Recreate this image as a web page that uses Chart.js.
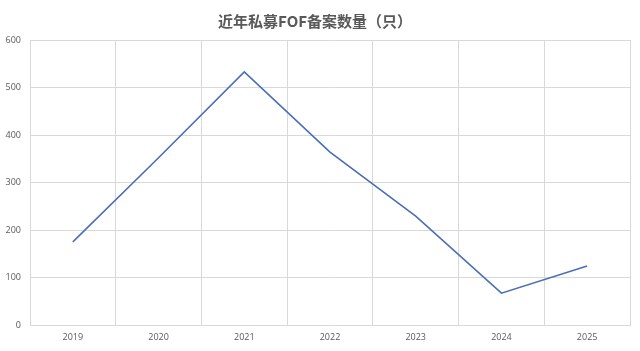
<!DOCTYPE html>
<html>
<head>
<meta charset="utf-8">
<script src="https://cdn.jsdelivr.net/npm/chart.js@4/dist/chart.umd.min.js"></script>
<style>
  html, body { margin: 0; padding: 0; background: #fff; }
  #wrap { width: 640px; height: 351px; position: relative; }
</style>
</head>
<body>
<div id="wrap"><canvas id="chart"></canvas></div>
<script>
// 近年私募FOF备案数量（只）
const years = ['2019', '2020', '2021', '2022', '2023', '2024', '2025'];
const fofCounts = [175, 352, 533, 364, 229, 67, 124];
const yTicks = [0, 100, 200, 300, 400, 500, 600];

const gridColor = '#d9d9d9';
const textColor = '#595959';

const ctx = document.getElementById('chart');

new Chart(ctx, {
    type: 'line',
    data: {
        labels: years,
        datasets: [{
            label: '备案数量',
            data: fofCounts,
            borderColor: '#4a6fb8',
            borderWidth: 1.6,
            pointRadius: 0,
            tension: 0,
            fill: false
        }]
    },
    options: {
        responsive: true,
        maintainAspectRatio: false,
        animation: false,
        layout: {
            padding: { top: 4, right: 10, bottom: 4, left: 0 }
        },
        plugins: {
            legend: { display: false },
            tooltip: { enabled: false },
            title: {
                display: true,
                text: '近年私募FOF备案数量（只）',
                color: textColor,
                font: { family: '"Noto Sans CJK SC", sans-serif', size: 15, weight: 'bold', lineHeight: 1.2 },
                padding: { top: 8, bottom: 10 }
            }
        },
        scales: {
            x: {
                offset: true,
                grid: { color: gridColor, offset: true, drawTicks: false },
                border: { color: gridColor },
                ticks: {
                    color: textColor,
                    font: { family: '"Open Sans", sans-serif', size: 9 },
                    padding: 7,
                    maxRotation: 0
                },
                afterFit: axis => { axis.height = 22; }
            },
            y: {
                min: 0,
                max: 600,
                afterBuildTicks: axis => { axis.ticks = yTicks.map(v => ({ value: v })); },
                grid: { color: gridColor, drawTicks: false },
                border: { color: gridColor },
                ticks: {
                    color: textColor,
                    font: { family: '"Open Sans", sans-serif', size: 9 },
                    padding: 9
                },
                afterFit: axis => { axis.width = 30; }
            }
        }
    }
});
</script>
</body>
</html>
